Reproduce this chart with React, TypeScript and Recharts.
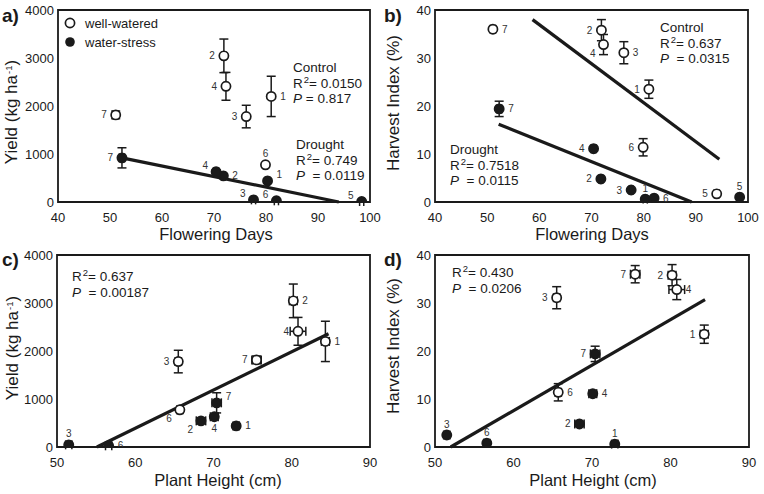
import { ScatterChart, Scatter, XAxis, YAxis, ErrorBar, ReferenceLine, ReferenceArea } from 'recharts'

// genotype numbers 1..7 (5 has no plant height record)
const genotypes = [1, 2, 3, 4, 5, 6, 7]

// flowering days
const wwFlowering = [81.0, 71.9, 76.2, 72.3, 94.0, 79.9, 51.1]
const wsFlowering = [80.3, 71.8, 77.6, 70.4, 98.4, 82.0, 52.3]
const wwFloweringErr = [0.4, 0.4, 0.4, 0.4, 0.5, 0.4, 0.5]
const wsFloweringErr = [0.4, 0.4, 0.4, 0.5, 0.4, 0.4, 0.5]

// plant height (cm)
const wwHeight = [84.3, 80.2, 65.5, 80.8, null, 65.7, 75.5]
const wsHeight = [72.9, 68.4, 51.5, 70.1, null, 56.6, 70.4]
const wwHeightErr = [0.5, 0.5, 0.4, 1.0, null, 0.4, 0.6]
const wsHeightErr = [0.4, 0.6, 0.4, 0.5, null, 0.4, 0.6]

// yield (kg/ha)
const wwYield = [2200, 3045, 1780, 2410, null, 775, 1815]
const wsYield = [440, 545, 45, 630, 10, 25, 920]
const wwYieldErr = [420, 350, 235, 290, null, 0, 80]
const wsYieldErr = [40, 40, 0, 40, 0, 0, 210]

// harvest index (%)
const wwHI = [23.5, 35.8, 31.1, 32.8, 1.7, 11.4, 36.0]
const wsHI = [0.6, 4.8, 2.5, 11.1, 1.0, 0.8, 19.4]
const wwHIErrB = [1.9, 2.2, 2.3, 2.1, 0, 1.8, 0]
const wwHIErrD = [1.9, 2.2, 2.3, 2.1, 0, 1.8, 1.8]
const wsHIErr = [0, 0, 0, 0, 0, 0, 1.6]

// regression lines (end points)
const fitA = [{ x: 52.3, y: 920 }, { x: 94.0, y: 0 }]
const fitBControl = [{ x: 58.7, y: 38.0 }, { x: 94.5, y: 8.9 }]
const fitBDrought = [{ x: 52.2, y: 16.2 }, { x: 89.2, y: 0 }]
const fitC = [{ x: 55.1, y: 0 }, { x: 84.7, y: 2360 }]
const fitD = [{ x: 52.0, y: 0 }, { x: 84.4, y: 30.7 }]

const flowTicks = [40, 50, 60, 70, 80, 90, 100]
const heightTicks = [50, 60, 70, 80, 90]
const yieldTicks = [0, 1000, 2000, 3000, 4000]
const hiTicks = [0, 10, 20, 30, 40]

// where the genotype number sits next to each point
const posAww = ['r', 'l', 'l', 'l', 'l', 't', 'l']
const posAws = ['tr', 'r', 'tl', 'tl', 'tl', 'tl', 'l']
const posBww = ['l', 'l', 'r', 'bl', 'l', 'l', 'r']
const posBws = ['t', 'l', 'l', 'l', 't', 'r', 'r']
const posCww = ['r', 'r', 'l', 'l', 'l', 'bl', 'l']
const posCws = ['r', 'bl', 't', 'b', 'r', 'r', 'tr']
const posDww = ['l', 'l', 'l', 'r', 'l', 'r', 'l']
const posDws = ['t', 'l', 't', 'r', 't', 't', 'l']

const FONT = '"Liberation Sans", Arial, Helvetica, sans-serif'
const INK = '#1a1a1a'

const OFFS: Record<string, [number, number, 'start' | 'middle' | 'end']> = {
  l: [-9, 0, 'end'],
  r: [9, 0, 'start'],
  t: [0, -11, 'middle'],
  b: [0, 12, 'middle'],
  tl: [-8, -6, 'end'],
  tr: [9, -6, 'start'],
  bl: [-8, 9, 'end'],
}

type Pt = { id: number; x: number; y: number; ex: number; ey: number; pos: string }

function buildPoints(xs: any[], ys: any[], exs: any[], eys: any[], pos: string[]): Pt[] {
  return genotypes.flatMap((id, i) =>
    xs[i] == null || ys[i] == null
      ? []
      : [{ id, x: xs[i], y: ys[i], ex: exs[i] ?? 0, ey: eys[i] ?? 0, pos: pos[i] }]
  )
}

function makeShape(filled: boolean) {
  return (props: any) => {
    const { cx, cy, payload } = props
    const [dx, dy, anchor] = OFFS[payload.pos] || OFFS.r
    return (
      <g>
        <circle cx={cx} cy={cy} r={4.6} fill={filled ? INK : '#fff'} stroke={INK} strokeWidth={1.7} />
        <text x={cx + dx} y={cy + dy} dy="0.35em" textAnchor={anchor} fontSize={10} fill="#333" fontFamily={FONT}>
          {payload.id}
        </text>
      </g>
    )
  }
}

interface PanelProps {
  left: number
  top: number
  width: number
  height: number
  marginRight: number
  yWidth: number
  xHeight: number
  xDomain: [number, number]
  xTicks: number[]
  yDomain: [number, number]
  yTicks: number[]
  ww: Pt[]
  ws: Pt[]
  fits: { x: number; y: number }[][]
}

function Panel(p: PanelProps) {
  return (
    <div style={{ position: 'absolute', left: p.left, top: p.top }}>
      <ScatterChart
        width={p.width}
        height={p.height}
        margin={{ top: 10, right: p.marginRight, left: 0, bottom: 0 }}
      >
        <XAxis
          type="number"
          dataKey="x"
          domain={p.xDomain}
          ticks={p.xTicks}
          allowDataOverflow
          height={p.xHeight}
          axisLine={false}
          tickLine={false}
          tickSize={0}
          tickMargin={11}
          tick={{ fontSize: 13, fill: INK, fontFamily: FONT }}
          interval={0}
        />
        <YAxis
          type="number"
          dataKey="y"
          domain={p.yDomain}
          ticks={p.yTicks}
          allowDataOverflow
          width={p.yWidth}
          axisLine={false}
          tickLine={false}
          tickSize={0}
          tickMargin={4}
          tick={{ fontSize: 13, fill: INK, fontFamily: FONT }}
          interval={0}
        />
        <ReferenceArea
          x1={p.xDomain[0]}
          x2={p.xDomain[1]}
          y1={p.yDomain[0]}
          y2={p.yDomain[1]}
          fill="none"
          stroke={INK}
          strokeWidth={1.8}
          ifOverflow="visible"
        />
        {p.fits.map((f, i) => (
          <ReferenceLine key={i} segment={f} stroke={INK} strokeWidth={3.2} ifOverflow="visible" />
        ))}
        <Scatter data={p.ws} shape={makeShape(true)} isAnimationActive={false}>
          <ErrorBar dataKey="ey" direction="y" width={4.5} stroke={INK} strokeWidth={1.5} />
          <ErrorBar dataKey="ex" direction="x" width={4.5} stroke={INK} strokeWidth={1.5} />
        </Scatter>
        <Scatter data={p.ww} shape={makeShape(false)} isAnimationActive={false}>
          <ErrorBar dataKey="ey" direction="y" width={4.5} stroke={INK} strokeWidth={1.5} />
          <ErrorBar dataKey="ex" direction="x" width={4.5} stroke={INK} strokeWidth={1.5} />
        </Scatter>
      </ScatterChart>
    </div>
  )
}

function Txt({ x, y, size = 13.5, children, anchor = 'left', bold = false }: any) {
  return (
    <div
      style={{
        position: 'absolute',
        left: x,
        top: y,
        transform: anchor === 'center' ? 'translate(-50%, -50%)' : 'translateY(-50%)',
        fontSize: size,
        fontWeight: bold ? 700 : 400,
        color: INK,
        lineHeight: 1,
        whiteSpace: 'nowrap',
      }}
    >
      {children}
    </div>
  )
}

function VTitle({ x, y, children }: any) {
  return (
    <div
      style={{
        position: 'absolute',
        left: x,
        top: y,
        transform: 'translate(-50%, -50%) rotate(-90deg)',
        fontSize: 17,
        color: INK,
        lineHeight: 1,
        whiteSpace: 'nowrap',
      }}
    >
      {children}
    </div>
  )
}

const Sup = ({ children }: any) => (
  <span style={{ fontSize: 9.5, position: 'relative', top: -5, marginLeft: 1 }}>{children}</span>
)

function Stats({ x, y, title, r2, pval, wide }: any) {
  const rows = [] as any[]
  if (title) rows.push(title)
  rows.push(<>R<Sup>2</Sup>= {r2}</>)
  rows.push(<><i>P</i>{wide ? '\u00a0 = ' : ' = '}{pval}</>)
  return (
    <>
      {rows.map((r, i) => (
        <Txt key={i} x={x} y={y + i * 15.5}>{r}</Txt>
      ))}
    </>
  )
}

export default function App() {
  const aWW = buildPoints(wwFlowering, wwYield, wwFloweringErr, wwYieldErr, posAww)
  const aWS = buildPoints(wsFlowering, wsYield, wsFloweringErr, wsYieldErr, posAws)
  const bWW = buildPoints(wwFlowering, wwHI, wwFloweringErr, wwHIErrB, posBww)
  const bWS = buildPoints(wsFlowering, wsHI, wsFloweringErr, wsHIErr, posBws)
  const cWW = buildPoints(wwHeight, wwYield, wwHeightErr, wwYieldErr, posCww)
  const cWS = buildPoints(wsHeight, wsYield, wsHeightErr, wsYieldErr, posCws)
  const dWW = buildPoints(wwHeight, wwHI, wwHeightErr, wwHIErrD, posDww)
  const dWS = buildPoints(wsHeight, wsHI, wsHeightErr, wsHIErr, posDws)

  return (
    <div
      style={{
        position: 'absolute',
        left: 0,
        top: 0,
        width: 764,
        height: 494,
        background: '#fff',
        fontFamily: FONT,
        overflow: 'hidden',
      }}
    >
      <Panel left={0} top={0} width={382} height={245} marginRight={12} yWidth={58} xHeight={43}
        xDomain={[40, 100]} xTicks={flowTicks} yDomain={[0, 4000]} yTicks={yieldTicks}
        ww={aWW} ws={aWS} fits={[fitA]} />
      <Panel left={382} top={0} width={382} height={245} marginRight={16} yWidth={53} xHeight={43}
        xDomain={[40, 100]} xTicks={flowTicks} yDomain={[0, 40]} yTicks={hiTicks}
        ww={bWW} ws={bWS} fits={[fitBControl, fitBDrought]} />
      <Panel left={0} top={245} width={382} height={249} marginRight={12} yWidth={57} xHeight={47}
        xDomain={[50, 90]} xTicks={heightTicks} yDomain={[0, 4000]} yTicks={yieldTicks}
        ww={cWW} ws={cWS} fits={[fitC]} />
      <Panel left={382} top={245} width={382} height={249} marginRight={15} yWidth={53} xHeight={47}
        xDomain={[50, 90]} xTicks={heightTicks} yDomain={[0, 40]} yTicks={hiTicks}
        ww={dWW} ws={dWS} fits={[fitD]} />

      {/* panel letters */}
      <Txt x={2} y={15} size={19} bold>a)</Txt>
      <Txt x={384} y={15} size={19} bold>b)</Txt>
      <Txt x={2} y={259} size={19} bold>c)</Txt>
      <Txt x={384} y={259} size={19} bold>d)</Txt>

      {/* axis titles */}
      <Txt x={216} y={234} size={16.5} anchor="center">Flowering Days</Txt>
      <Txt x={592} y={234} size={16.5} anchor="center">Flowering Days</Txt>
      <Txt x={218} y={480} size={16.5} anchor="center">Plant Height (cm)</Txt>
      <Txt x={593} y={480} size={16.5} anchor="center">Plant Height (cm)</Txt>
      <VTitle x={11} y={112}>Yield (kg ha<Sup>-1</Sup>)</VTitle>
      <VTitle x={393} y={103}>Harvest Index (%)</VTitle>
      <VTitle x={12} y={348}>Yield (kg ha<Sup>-1</Sup>)</VTitle>
      <VTitle x={393} y={346}>Harvest Index (%)</VTitle>

      {/* legend */}
      <svg style={{ position: 'absolute', left: 64, top: 17 }} width={12} height={32}>
        <circle cx={6} cy={6} r={4.6} fill="#fff" stroke={INK} strokeWidth={1.7} />
        <circle cx={6} cy={25} r={4.8} fill={INK} />
      </svg>
      <Txt x={85} y={23} size={13}>well-watered</Txt>
      <Txt x={85} y={42} size={13}>water-stress</Txt>

      {/* regression statistics */}
      <Stats x={293} y={68} title="Control" r2="0.0150" pval="0.817" />
      <Stats x={296} y={145} title="Drought" r2="0.749" pval="0.0119" wide />
      <Stats x={660} y={28} title="Control" r2="0.637" pval="0.0315" wide />
      <Stats x={450} y={150} title="Drought" r2="0.7518" pval="0.0115" wide />
      <Stats x={72} y={277} r2="0.637" pval="0.00187" wide />
      <Stats x={452} y={273} r2="0.430" pval="0.0206" wide />
    </div>
  )
}
